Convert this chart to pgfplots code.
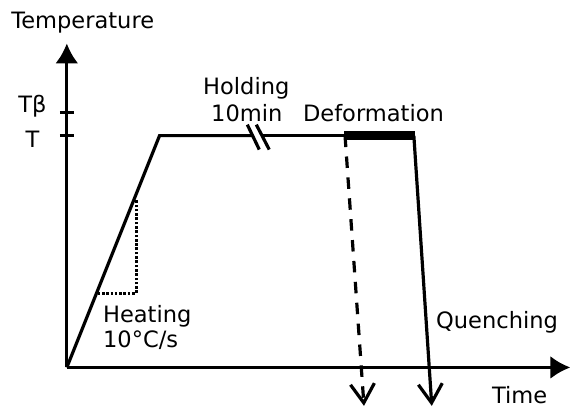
\documentclass[border=0pt]{standalone}
\usepackage{pgfplots}
\pgfplotsset{compat=1.18}
\usepackage{fontspec}
\setmainfont{DejaVu Sans}
\usetikzlibrary{arrows.meta}
\begin{document}
\begin{tikzpicture}[font=\fontsize{11.3}{13.5}\selectfont]
\begin{axis}[
 x=0.5pt, y=0.5pt,
 xmin=0, xmax=505, ymin=0, ymax=325,
 axis lines=left,
 enlargelimits=false,
 clip=false,
 axis line style={line width=1.6pt},
 x axis line style={-{Latex[length=10pt,width=11.5pt]}},
 y axis line style={-{Latex[length=10pt,width=11.5pt]}},
 xtick=\empty,
 ytick={232.5,255.5},
 yticklabels={},
 tick align=center,
 major tick length=7pt,
 tick style={line width=1.5pt, black},
]
\path (axis cs:-67,-46.5) rectangle (axis cs:505,368.5);
% heating + holding
\addplot[black, no markers, line width=1.6pt, line join=miter] coordinates {(0,0) (93,232.5) (187,232.5)};
\addplot[black, no markers, line width=1.6pt] coordinates {(196.5,232.5) (348,232.5)};
% break marks
\addplot[black, no markers, line width=1.6pt] coordinates {(181,243.5) (193,218.5)};
\addplot[black, no markers, line width=1.6pt] coordinates {(190,243.5) (203,218.5)};
% deformation
\addplot[black, no markers, line width=4.5pt] coordinates {(278,233) (349,233)};
% dotted slope triangle
\addplot[black, no markers, line width=1.4pt, dash pattern=on 1.3pt off 0.85pt] coordinates {(31,74.5) (69.5,74.5) (69.5,168.5)};
% dashed quench
\addplot[black, no markers, line width=1.6pt, dash pattern=on 5.75pt off 4.75pt, -{Straight Barb[length=9.5pt,width=12pt]}] coordinates {(279,232.5) (298,-38.5)};
% solid quench
\addplot[black, no markers, line width=1.6pt, -{Straight Barb[length=9.5pt,width=12pt]}] coordinates {(348,232.5) (366,-38.5)};
\node[anchor=base, inner sep=0] at (axis cs:16,339.5) {Temperature};
\node[anchor=base, inner sep=0] at (axis cs:-34.5,255.5) {Tβ};
\node[anchor=base, inner sep=0] at (axis cs:-34.5,220.5) {T};
\node[anchor=base, inner sep=0] at (axis cs:180,273.5) {Holding};
\node[anchor=base, inner sep=0] at (axis cs:180.5,246.5) {10min};
\node[anchor=base, inner sep=0] at (axis cs:307.5,246.5) {Deformation};
\node[anchor=base west, inner sep=0] at (axis cs:36,45.5) {Heating};
\node[anchor=base west, inner sep=0] at (axis cs:36,20.5) {10°C/s};
\node[anchor=base west, inner sep=0] at (axis cs:370,39.5) {Quenching};
\node[anchor=base west, inner sep=0] at (axis cs:426,-36.5) {Time};
\end{axis}
\end{tikzpicture}
\end{document}
